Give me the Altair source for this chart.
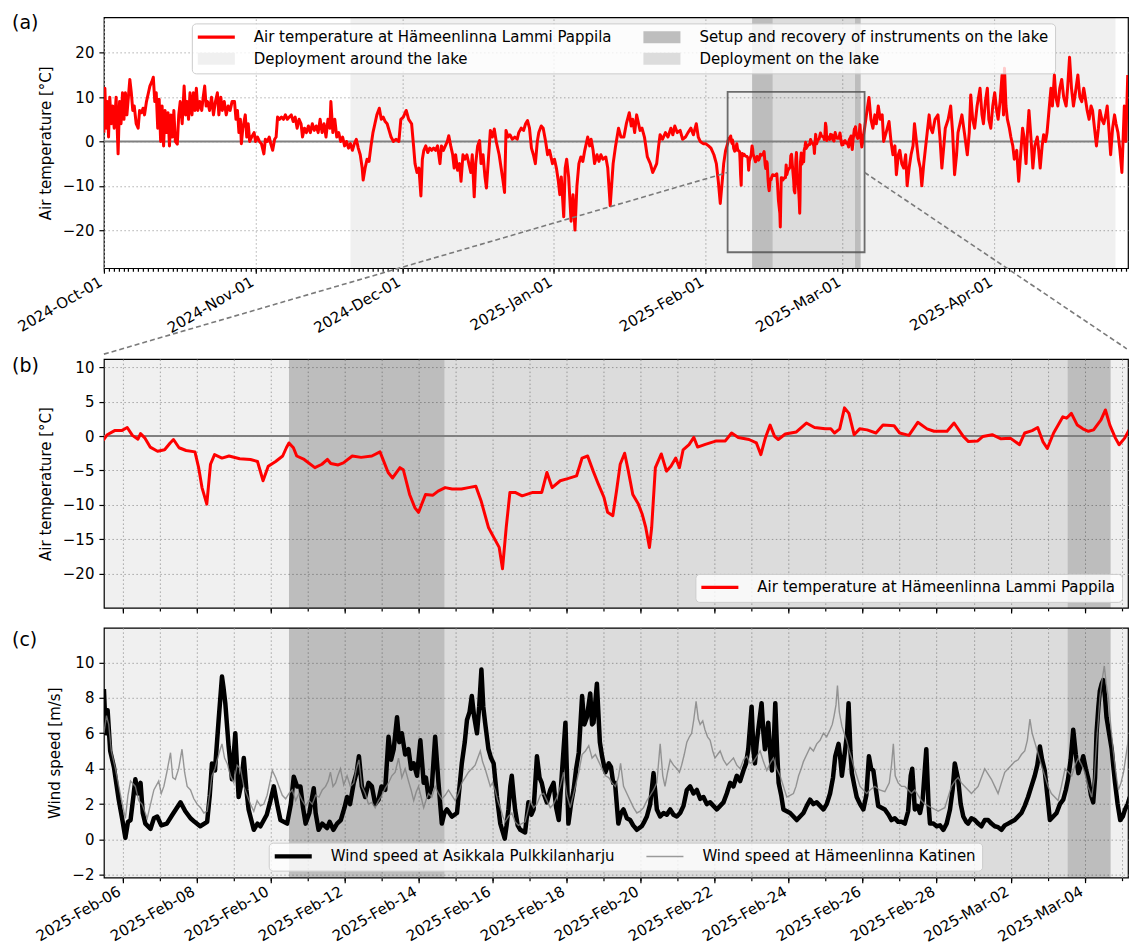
import altair as alt
import pandas as pd

FONT = "DejaVu Sans"
DAY_MS = 86_400_000
T0 = int(pd.Timestamp("2024-10-01T00:00:00Z").value // 1_000_000)  # day 0
FEB06 = 128.0  # 2025-02-06 in days since 2024-10-01

# ---------------- data (days since 2024-10-01, value) ----------------
temp_pre = [
    (0.0, 2), (0.2, 12), (0.45, 3), (0.7, 9), (0.95, 1), (1.2, 10), (1.5, 4), (1.8, 8), (2.1, 3), (2.5, 10),
    (2.9, -2.8), (3.2, 9), (3.5, 4), (3.8, 11), (4.1, 5), (4.4, 11), (4.7, 6), (5.0, 10), (5.3, 14), (5.6, 11),
    (5.9, 7), (6.2, 8), (6.6, 4), (7.0, 3), (7.3, 7), (7.7, 6.5), (8.0, 7.5), (8.3, 6), (8.7, 9), (9.1, 11),
    (9.4, 12.5), (9.8, 13.5), (10.1, 14.5), (10.4, 9), (10.7, 11), (11.0, 3), (11.3, 9.5), (11.6, 0), (11.9, 8),
    (12.2, -1), (12.5, 7), (12.8, 2), (13.1, 6.5), (13.4, -1), (13.7, 6), (14.0, 1), (14.3, 7), (14.6, 0),
    (15.0, -0.6), (15.3, 6), (15.6, 9), (16.0, 4), (16.4, 12.5), (16.7, 6), (17.0, 9), (17.3, 5), (17.6, 11),
    (18.0, 6), (18.3, 11), (18.6, 7), (18.9, 12), (19.2, 7), (19.6, 9), (20.0, 7), (20.3, 10), (20.6, 12.5),
    (20.9, 8), (21.2, 9), (21.6, 7), (22.0, 10), (22.4, 6), (22.8, 9), (23.2, 11), (23.5, 6), (23.9, 10),
    (24.2, 7), (24.6, 9), (25.0, 6), (25.4, 8), (25.8, 7), (26.2, 9), (26.7, 9), (27.0, 5), (27.3, 7), (27.6, 2),
    (27.9, 5), (28.1, -0.5), (28.4, 3), (28.9, 6), (29.2, 1), (29.5, 4), (29.8, 0), (30.2, 1), (30.7, 2),
    (31.0, 0), (31.4, 1), (31.8, 0), (32.2, -0.5), (32.7, -2.8), (33.0, 0.5), (33.4, 0), (33.8, 1), (34.1, -0.5),
    (34.5, -2), (34.9, 0.5), (35.2, 1), (35.5, 5.5), (35.9, 5), (36.3, 5.5), (36.7, 5), (37.1, 6), (37.5, 5),
    (37.9, 5.5), (38.3, 6), (38.7, 4.5), (39.1, 5.5), (39.5, 3), (39.9, 5), (40.3, 4), (40.6, 1), (41.0, 3),
    (41.4, 2), (41.8, 3.5), (42.2, 2), (42.6, 4), (43.0, 2.5), (43.4, 3.5), (43.8, 2), (44.2, 5), (44.6, 2),
    (45.0, 4), (45.4, 1), (45.8, 5), (46.2, 3), (46.4, 9), (46.8, 2), (47.2, 5), (47.6, 1), (48.0, 2), (48.4, 0),
    (48.8, 1), (49.2, -1), (49.6, 0), (50.0, -1.5), (50.4, -0.5), (50.8, -2), (51.2, -0.5), (51.6, 0.5),
    (52.0, -1.5), (52.4, -3), (52.8, -6), (53.0, -8.7), (53.4, -6), (53.8, -4), (54.2, -4.5), (54.6, -1),
    (55.0, 2), (55.4, 4), (55.8, 6), (56.3, 7.5), (56.7, 5), (57.1, 5.5), (57.5, 4.5), (57.9, 4), (58.3, 2.5),
    (58.7, 1), (59.2, 0), (59.7, 0.5), (60.3, 0), (60.7, 5), (61.2, 5.5), (61.8, 7), (62.3, 5), (62.9, 4),
    (63.3, -1), (63.6, -5), (64.0, -7), (64.4, -6), (64.8, -12.3), (65.1, -4), (65.4, -2), (65.8, -1),
    (66.2, -2.5), (66.6, -1.5), (67.0, -2), (67.4, -1.5), (67.8, -2), (68.2, -1), (68.7, -5), (69.0, -1),
    (69.4, -2), (69.8, -1), (70.2, 0), (70.5, 1.3), (70.9, -1), (71.3, -3), (71.6, -6), (71.9, -3), (72.3, -6.5),
    (72.7, -5), (73.0, -9), (73.4, -3), (73.8, -4), (74.2, -3), (74.6, -5), (75.0, -7), (75.3, -3),
    (75.7, -12.5), (76.0, -5), (76.4, -1), (76.8, 0.2), (77.1, -5), (77.5, -3), (77.9, -8), (78.2, -10.5),
    (78.6, -4), (79.0, 2.5), (79.4, 1), (79.8, 2.8), (80.2, 0), (80.8, -3), (81.2, -6), (81.6, -9),
    (81.9, -11.5), (82.2, 2.5), (82.6, 1), (83.0, 1.5), (83.5, 0.5), (84.0, 1), (84.5, 0.5), (84.8, 2),
    (85.3, 3), (85.8, 2.5), (86.2, 4), (86.6, 4.7), (87.0, 3), (87.4, -1.5), (87.8, -3), (88.2, -5), (88.6, 0),
    (88.9, 2), (89.4, 3.5), (89.8, 3), (90.3, 0), (90.7, -3), (91.1, -2), (91.7, -5), (92.1, -4), (92.5, -6),
    (92.9, -9), (93.2, -12), (93.5, -8), (94.0, -17), (94.3, -6), (94.6, -4), (95.0, -8), (95.5, -18),
    (95.9, -12), (96.3, -20), (96.7, -10), (97.1, -5), (97.5, -3.5), (97.9, -4.5), (98.3, -2), (98.9, 1),
    (99.3, -1), (99.6, 0.5), (100.0, -2), (100.3, -5), (100.8, -3), (101.2, -4.5), (101.6, -3), (102.0, -4),
    (102.6, -3.5), (103.0, -6), (103.5, -14.5), (104.1, -5), (104.6, -1), (105.2, 3), (105.7, 1), (106.3, 1),
    (106.8, 4), (107.4, 6.5), (107.8, 3.5), (108.1, 5), (108.5, 2), (108.9, 6), (109.3, 4), (109.6, 2.5),
    (110.0, 3), (110.5, 1), (111.1, -3.5), (111.7, -5), (112.2, -7), (112.6, -6), (113.0, -5), (113.4, -1),
    (113.7, 1.5), (114.2, 0.5), (114.8, 2), (115.3, 1), (115.9, 3), (116.3, 1.5), (116.7, 3.5), (117.2, 2),
    (117.8, 2.5), (118.3, 0.5), (118.9, 1), (119.4, 2), (120.0, 3), (120.5, 1.5), (121.1, 4), (121.5, 1),
    (121.9, 0), (122.5, -0.5), (123.0, -0.5), (123.6, -1), (124.1, -1.5), (124.7, -3), (125.2, -5), (125.6, -9),
    (126.0, -14), (126.4, -9), (126.7, -5), (127.1, -2),
]

# zoom window temperature: (days since 2025-02-06, value)
temp_zoom = [
    (-0.5, -0.5), (-0.41, 0.2), (-0.21, 0.8), (-0.02, 0.8), (0.13, 1.25), (0.27, 0.1), (0.42, -0.45),
    (0.49, 0.35), (0.61, -0.3), (0.75, -1.6), (0.95, -2.2), (1.14, -2.0), (1.29, -1.0), (1.38, -0.5),
    (1.53, -1.7), (1.72, -2.1), (1.96, -2.3), (2.06, -4.6), (2.15, -7.5), (2.28, -9.9), (2.38, -4.1),
    (2.49, -2.7), (2.69, -3.2), (2.88, -2.9), (3.17, -3.3), (3.46, -3.4), (3.65, -3.7), (3.8, -6.5),
    (3.94, -4.4), (4.14, -3.7), (4.33, -2.9), (4.43, -1.7), (4.5, -1.0), (4.62, -1.7), (4.71, -2.9),
    (4.91, -3.4), (5.2, -4.6), (5.39, -4.1), (5.54, -3.4), (5.63, -4.0), (5.83, -4.2), (5.97, -3.9),
    (6.21, -2.9), (6.45, -3.1), (6.74, -2.9), (6.96, -2.3), (7.18, -5.3), (7.3, -6.1), (7.5, -4.6),
    (7.59, -4.9), (7.76, -8.5), (7.9, -10.4), (8.0, -11.1), (8.19, -8.5), (8.39, -8.6), (8.53, -8.0),
    (8.72, -7.5), (8.91, -7.7), (9.16, -7.7), (9.35, -7.5), (9.55, -7.3), (9.69, -9.4), (9.89, -13.3),
    (10.03, -14.7), (10.18, -16.2), (10.27, -19.3), (10.37, -13.3), (10.47, -8.2), (10.61, -8.2),
    (10.8, -8.7), (11.09, -8.2), (11.33, -8.2), (11.47, -5.3), (11.61, -7.5), (11.83, -6.5), (12.03, -6.2),
    (12.27, -5.8), (12.42, -3.2), (12.57, -2.9), (12.72, -5.1), (12.86, -7.0), (13.01, -8.9), (13.11, -11.1),
    (13.25, -11.6), (13.35, -8.0), (13.45, -4.1), (13.57, -2.5), (13.67, -5.1), (13.79, -8.5), (13.94, -9.9),
    (14.04, -11.3), (14.14, -13.3), (14.24, -16.2), (14.3, -13.3), (14.4, -4.6), (14.56, -2.6), (14.7, -5.1),
    (14.82, -4.4), (14.95, -3.2), (15.05, -4.6), (15.15, -2.0), (15.31, -1.25), (15.44, -0.2), (15.54, -1.6),
    (15.75, -1.2), (16.05, -0.7), (16.29, -0.7), (16.46, 0.45), (16.64, -0.2), (16.93, -0.5), (17.13, -1.0),
    (17.25, -2.7), (17.37, -0.3), (17.5, 1.6), (17.62, -0.05), (17.72, -0.5), (17.91, 0.3), (18.21, 0.6),
    (18.48, 1.9), (18.7, 1.25), (18.99, 1.05), (19.14, 1.05), (19.24, 0.45), (19.38, 1.05), (19.51, 4.1),
    (19.63, 3.3), (19.77, 0.2), (19.92, 1.05), (20.12, 0.9), (20.36, 0.45), (20.55, 1.6), (20.85, 1.5),
    (21.0, 0.45), (21.25, 0.1), (21.49, 2.0), (21.74, 1.05), (21.93, 0.7), (22.28, 0.7), (22.47, 1.9),
    (22.72, -0.05), (22.86, -0.8), (23.11, -0.7), (23.25, -0.05), (23.5, 0.2), (23.74, -0.4), (23.99, -0.3),
    (24.24, -1.25), (24.38, 0.45), (24.58, 0.8), (24.73, 1.25), (24.87, -0.8), (24.99, -1.8), (25.16, 0.45),
    (25.41, 2.8), (25.51, 2.6), (25.64, 3.3), (25.8, 1.6), (25.95, 1.05), (26.1, 0.7), (26.24, 0.9),
    (26.44, 2.35), (26.56, 3.8), (26.68, 1.6), (26.83, -0.3), (26.93, -1.25), (27.08, -0.3), (27.2, 0.9),
]

temp_post = [
    (155.5, 3), (156.0, 7), (156.4, 9.9), (156.8, 5), (157.2, 3), (157.6, 6), (157.9, 4), (158.3, 8),
    (158.7, 5), (159.1, 6), (159.4, 0), (159.9, 2), (160.5, 4.5), (160.9, 0), (161.3, -3), (161.7, -1),
    (162.0, -7.5), (162.4, -3), (162.7, -2), (163.1, -5), (163.5, -6), (163.9, -3), (164.2, -10), (164.6, -6),
    (165.0, -3), (165.4, -1), (165.7, 4), (166.1, 0), (166.5, -4), (166.9, -6), (167.2, -10), (167.6, -5),
    (167.9, -2), (168.3, 2), (168.7, 6), (169.0, 3), (169.4, 2), (169.9, 5), (170.5, 6), (170.9, 1),
    (171.3, -6), (171.7, -1), (172.0, 3), (172.6, 5), (173.1, 8), (173.5, 2), (173.9, -7.5), (174.3, -3),
    (174.6, 2), (175.0, 4), (175.4, 6), (175.9, 2), (176.5, -3), (176.9, 2), (177.2, 10.5), (177.6, 5),
    (178.0, 3), (178.5, 8), (179.1, 12), (179.5, 6), (179.8, 4), (180.2, 9), (180.6, 12), (180.9, 5),
    (181.3, 3), (181.7, 8), (182.1, 11), (182.5, 7), (182.8, 5), (183.2, 9), (183.6, 15), (183.9, 6),
    (184.1, 16.5), (184.4, 8), (184.7, 5), (185.1, 3), (185.4, 1), (185.8, -1), (186.1, -4), (186.6, -2),
    (187.0, -9), (187.4, -3), (187.8, 3), (188.1, 1), (188.5, -5), (188.8, 2), (189.1, 7), (189.5, 1),
    (189.9, -6), (190.3, -1), (190.8, 1), (191.1, -2), (191.4, -6), (191.8, -1), (192.1, 1.5), (192.5, 0),
    (192.8, 2), (193.2, 7), (193.6, 12), (193.9, 8), (194.3, 15), (194.6, 10), (195.0, 8), (195.4, 12),
    (195.8, 14), (196.2, 10), (196.7, 8), (197.0, 12), (197.4, 19), (197.8, 12), (198.2, 8), (198.6, 11),
    (199.1, 15), (199.5, 10), (199.9, 9), (200.3, 12), (200.6, 10), (201.0, 7), (201.4, 5), (201.8, 8),
    (202.1, 7), (202.5, 3), (202.9, -1), (203.3, 3), (203.6, 7), (204.0, 5), (204.4, 4), (204.8, 6),
    (205.1, 8), (205.5, 2), (205.8, -3), (206.2, 3), (206.6, 6), (206.9, 4), (207.3, 2), (207.7, -2),
    (208.1, -7), (208.4, 2), (208.6, 8), (208.9, 0), (209.3, 15),
]

# wind speed (days since 2025-02-06, m/s)
wind_asikkala = [
    (-0.5, 8.5), (-0.45, 6.0), (-0.4, 7.3), (-0.33, 5.0), (-0.23, 4.1), (-0.1, 2.25), (0.0, 1.1), (0.08, 0.1),
    (0.15, 1.0), (0.22, 1.1), (0.3, 2.5), (0.35, 3.4), (0.42, 2.6), (0.49, 3.2), (0.55, 1.5), (0.62, 0.9),
    (0.76, 0.6), (0.85, 1.2), (0.94, 1.3), (1.05, 0.8), (1.2, 0.9), (1.35, 1.4), (1.57, 2.1), (1.7, 1.6),
    (1.84, 1.2), (1.95, 1.0), (2.1, 0.75), (2.29, 1.0), (2.36, 2.5), (2.42, 4.3), (2.5, 3.9), (2.6, 6.75),
    (2.69, 9.2), (2.73, 8.6), (2.78, 7.7), (2.87, 5.25), (2.96, 3.4), (3.05, 6.0), (3.14, 2.4), (3.2, 3.0),
    (3.28, 4.6), (3.35, 2.8), (3.41, 1.7), (3.55, 0.55), (3.65, 0.9), (3.73, 0.75), (3.9, 1.4), (4.0, 2.2),
    (4.09, 3.0), (4.18, 2.0), (4.27, 1.1), (4.45, 0.9), (4.55, 2.0), (4.63, 3.55), (4.72, 3.0), (4.81, 3.0),
    (4.88, 1.8), (4.95, 0.9), (5.05, 1.5), (5.17, 2.9), (5.22, 1.5), (5.3, 0.55), (5.4, 0.9), (5.53, 0.65),
    (5.6, 1.0), (5.7, 0.55), (5.8, 0.9), (5.9, 1.1), (6.0, 1.8), (6.07, 2.4), (6.15, 2.0), (6.25, 3.2),
    (6.33, 3.8), (6.39, 4.7), (6.47, 3.0), (6.56, 2.4), (6.65, 3.2), (6.74, 3.0), (6.83, 2.0), (6.92, 2.25),
    (7.0, 3.0), (7.1, 2.8), (7.19, 5.8), (7.26, 4.5), (7.33, 5.1), (7.42, 6.9), (7.48, 5.5), (7.55, 6.0),
    (7.64, 4.8), (7.73, 5.1), (7.8, 4.0), (7.87, 4.3), (7.96, 3.6), (8.05, 5.6), (8.14, 3.2), (8.2, 3.5),
    (8.27, 2.4), (8.36, 3.0), (8.45, 5.8), (8.54, 3.2), (8.63, 0.9), (8.7, 1.5), (8.77, 1.7), (8.9, 1.3),
    (9.04, 1.5), (9.1, 2.8), (9.17, 4.3), (9.25, 5.5), (9.31, 6.75), (9.38, 7.2), (9.44, 8.1), (9.5, 7.0),
    (9.58, 6.0), (9.64, 7.5), (9.7, 9.6), (9.75, 7.5), (9.8, 6.6), (9.89, 5.1), (9.96, 4.6), (10.03, 4.3),
    (10.12, 2.4), (10.21, 0.9), (10.28, 0.4), (10.33, 0.05), (10.38, 0.8), (10.43, 1.7), (10.48, 3.0),
    (10.52, 3.6), (10.57, 2.5), (10.61, 1.7), (10.68, 0.8), (10.75, 0.55), (10.88, 0.4), (10.97, 2.1),
    (11.05, 1.4), (11.11, 1.7), (11.2, 4.7), (11.27, 3.5), (11.33, 3.2), (11.4, 2.5), (11.47, 2.1),
    (11.56, 2.8), (11.65, 3.2), (11.72, 1.8), (11.79, 1.1), (11.88, 3.9), (11.97, 6.6), (12.05, 0.9),
    (12.12, 2.0), (12.19, 2.8), (12.26, 4.0), (12.33, 4.9), (12.42, 8.1), (12.48, 6.5), (12.55, 6.9),
    (12.64, 8.25), (12.69, 6.5), (12.73, 6.6), (12.82, 8.8), (12.9, 5.5), (12.96, 4.7), (13.05, 3.8),
    (13.14, 4.3), (13.2, 4.1), (13.26, 3.2), (13.31, 3.2), (13.4, 0.9), (13.47, 1.5), (13.54, 1.7),
    (13.63, 1.2), (13.72, 1.1), (13.8, 0.8), (13.9, 0.55), (14.03, 0.75), (14.1, 1.0), (14.17, 1.3),
    (14.26, 2.0), (14.35, 3.75), (14.44, 1.7), (14.53, 1.3), (14.62, 1.5), (14.71, 1.4), (14.8, 1.7),
    (14.89, 1.4), (14.98, 1.3), (15.07, 1.5), (15.16, 1.9), (15.25, 2.8), (15.34, 3.0), (15.43, 2.6),
    (15.52, 2.8), (15.61, 2.3), (15.7, 2.4), (15.79, 2.0), (15.88, 2.1), (15.97, 1.9), (16.06, 1.7),
    (16.15, 1.9), (16.24, 2.1), (16.33, 2.6), (16.42, 3.2), (16.51, 3.0), (16.6, 3.6), (16.69, 3.3),
    (16.78, 3.9), (16.85, 4.3), (16.91, 5.1), (17.0, 7.5), (17.05, 5.0), (17.09, 4.3), (17.14, 5.5),
    (17.18, 6.2), (17.27, 7.7), (17.32, 6.0), (17.36, 5.1), (17.45, 6.6), (17.5, 5.0), (17.55, 3.9),
    (17.6, 5.5), (17.64, 7.7), (17.69, 5.0), (17.73, 3.2), (17.8, 2.5), (17.86, 1.7), (17.95, 1.6),
    (18.04, 1.5), (18.13, 1.3), (18.22, 1.1), (18.31, 1.3), (18.4, 1.5), (18.49, 1.9), (18.58, 2.25),
    (18.67, 2.0), (18.76, 2.1), (18.85, 1.9), (18.94, 1.7), (19.03, 2.0), (19.12, 2.6), (19.2, 3.5),
    (19.26, 4.7), (19.35, 5.4), (19.4, 4.5), (19.44, 3.6), (19.53, 5.1), (19.58, 6.0), (19.62, 7.7),
    (19.67, 5.0), (19.71, 3.75), (19.78, 3.0), (19.84, 2.4), (19.93, 2.0), (20.02, 1.7), (20.1, 2.5),
    (20.17, 4.7), (20.23, 4.0), (20.29, 3.9), (20.36, 2.8), (20.42, 1.9), (20.51, 1.8), (20.6, 1.7),
    (20.7, 1.4), (20.78, 1.1), (20.87, 1.2), (20.96, 1.0), (21.05, 1.0), (21.14, 0.9), (21.23, 1.6),
    (21.3, 3.6), (21.34, 4.0), (21.41, 1.7), (21.48, 1.9), (21.55, 1.5), (21.62, 2.2), (21.72, 5.1),
    (21.78, 2.0), (21.82, 0.9), (21.91, 0.9), (22.0, 0.75), (22.09, 0.8), (22.18, 0.55), (22.27, 0.9),
    (22.36, 1.7), (22.43, 2.8), (22.49, 4.3), (22.58, 3.4), (22.65, 2.0), (22.72, 1.3), (22.8, 1.0),
    (22.85, 0.9), (22.94, 1.2), (23.03, 1.1), (23.12, 0.9), (23.21, 0.75), (23.3, 1.1), (23.39, 1.1),
    (23.48, 0.9), (23.57, 0.75), (23.66, 0.7), (23.75, 0.55), (23.84, 0.8), (23.93, 0.9), (24.02, 1.0),
    (24.11, 1.1), (24.2, 1.3), (24.29, 1.5), (24.38, 1.9), (24.47, 2.4), (24.56, 3.0), (24.65, 3.6),
    (24.72, 4.2), (24.79, 5.25), (24.85, 4.5), (24.92, 3.9), (24.99, 2.5), (25.06, 1.1), (25.15, 1.3),
    (25.24, 1.5), (25.33, 2.0), (25.42, 2.25), (25.49, 2.8), (25.55, 3.4), (25.62, 4.5), (25.69, 6.2),
    (25.76, 4.8), (25.83, 3.75), (25.9, 4.2), (25.96, 4.7), (26.03, 4.0), (26.1, 3.4), (26.17, 2.5),
    (26.23, 2.1), (26.28, 3.5), (26.32, 6.0), (26.37, 7.5), (26.41, 8.4), (26.46, 8.8), (26.5, 9.0),
    (26.55, 8.0), (26.59, 6.9), (26.66, 6.0), (26.73, 5.1), (26.78, 4.0), (26.82, 3.2), (26.89, 2.0),
    (26.96, 1.1), (27.03, 1.3), (27.09, 1.7), (27.16, 2.0), (27.22, 2.4),
]

wind_katinen = [
    (-0.5, 6.0), (-0.43, 7.0), (-0.37, 6.5), (-0.3, 5.0), (-0.19, 4.0), (-0.05, 2.5), (0.08, 1.2), (0.15, 2.5),
    (0.22, 3.3), (0.35, 3.0), (0.44, 2.2), (0.53, 2.0), (0.67, 1.2), (0.76, 2.0), (0.85, 2.8), (0.98, 3.3),
    (1.05, 2.6), (1.12, 3.0), (1.2, 3.8), (1.3, 4.9), (1.36, 3.5), (1.43, 3.4), (1.52, 4.0), (1.61, 5.1),
    (1.68, 3.8), (1.75, 3.0), (1.84, 2.8), (1.93, 2.3), (2.02, 2.0), (2.11, 1.8), (2.2, 1.5), (2.29, 1.6),
    (2.36, 2.6), (2.42, 3.6), (2.5, 4.0), (2.56, 4.5), (2.63, 5.0), (2.69, 5.4), (2.76, 4.6), (2.83, 4.3),
    (2.92, 3.6), (3.01, 3.2), (3.1, 4.2), (3.19, 4.0), (3.28, 3.0), (3.37, 2.5), (3.46, 2.0), (3.55, 1.6),
    (3.64, 2.2), (3.73, 1.9), (3.82, 2.0), (3.91, 2.5), (3.98, 3.2), (4.05, 3.9), (4.14, 3.5), (4.23, 3.0),
    (4.32, 2.5), (4.41, 2.3), (4.5, 2.6), (4.59, 2.8), (4.68, 2.2), (4.77, 2.6), (4.86, 2.2), (4.95, 1.9),
    (5.04, 2.2), (5.13, 2.0), (5.22, 2.5), (5.31, 2.4), (5.4, 2.8), (5.49, 3.0), (5.56, 3.3), (5.62, 3.8),
    (5.69, 3.0), (5.76, 3.2), (5.82, 3.6), (5.89, 4.0), (5.98, 3.1), (6.07, 3.6), (6.16, 3.0), (6.25, 3.2),
    (6.32, 4.0), (6.39, 4.5), (6.47, 3.0), (6.56, 2.6), (6.65, 2.0), (6.74, 2.1), (6.83, 1.8), (6.92, 2.2),
    (7.01, 2.5), (7.1, 2.9), (7.19, 3.2), (7.28, 3.6), (7.37, 3.8), (7.46, 4.6), (7.55, 3.5), (7.64, 4.0),
    (7.73, 3.3), (7.8, 2.8), (7.87, 2.2), (7.94, 2.7), (8.0, 3.0), (8.07, 2.4), (8.14, 1.8), (8.2, 2.2),
    (8.27, 2.6), (8.36, 2.4), (8.45, 3.0), (8.54, 2.6), (8.63, 2.3), (8.72, 2.5), (8.81, 2.8), (8.9, 2.5),
    (8.99, 2.2), (9.08, 2.6), (9.17, 3.2), (9.26, 3.5), (9.35, 3.8), (9.44, 4.0), (9.53, 4.2), (9.6, 4.6),
    (9.67, 5.0), (9.73, 4.4), (9.8, 4.0), (9.87, 3.5), (9.94, 3.0), (10.0, 3.2), (10.07, 2.8), (10.14, 2.2),
    (10.21, 1.8), (10.28, 1.3), (10.34, 1.0), (10.43, 1.3), (10.52, 1.5), (10.61, 1.0), (10.7, 0.8),
    (10.79, 0.9), (10.88, 1.0), (10.95, 1.6), (11.02, 2.2), (11.11, 1.8), (11.2, 2.0), (11.29, 2.5),
    (11.38, 2.6), (11.47, 2.2), (11.56, 1.8), (11.65, 2.0), (11.74, 2.4), (11.83, 3.0), (11.92, 3.8),
    (12.01, 2.5), (12.1, 1.8), (12.17, 2.4), (12.24, 3.0), (12.33, 3.8), (12.42, 4.8), (12.51, 5.0),
    (12.6, 5.3), (12.69, 4.6), (12.78, 4.8), (12.87, 4.4), (12.96, 4.0), (13.05, 3.6), (13.14, 3.5),
    (13.23, 3.2), (13.32, 3.0), (13.4, 3.5), (13.46, 4.3), (13.54, 3.0), (13.63, 2.6), (13.72, 2.2),
    (13.81, 1.8), (13.9, 1.5), (13.99, 1.6), (14.08, 1.8), (14.17, 2.2), (14.26, 2.5), (14.35, 2.8),
    (14.44, 3.2), (14.53, 5.4), (14.6, 3.6), (14.66, 3.0), (14.73, 3.8), (14.8, 4.5), (14.89, 4.2),
    (14.98, 4.0), (15.05, 3.8), (15.11, 4.2), (15.18, 4.8), (15.25, 5.5), (15.32, 5.8), (15.38, 6.0),
    (15.44, 6.8), (15.5, 7.8), (15.56, 6.8), (15.61, 6.5), (15.68, 6.7), (15.74, 6.2), (15.81, 5.8),
    (15.88, 5.6), (15.95, 5.0), (16.01, 4.6), (16.08, 4.8), (16.15, 5.0), (16.24, 4.5), (16.33, 4.2),
    (16.42, 4.4), (16.51, 4.6), (16.6, 4.2), (16.69, 4.0), (16.78, 4.5), (16.87, 4.7), (16.96, 4.3),
    (17.05, 4.4), (17.14, 4.7), (17.23, 5.0), (17.32, 4.4), (17.41, 3.9), (17.5, 4.3), (17.59, 4.6),
    (17.68, 4.0), (17.77, 3.6), (17.86, 3.0), (17.95, 2.4), (18.04, 2.5), (18.13, 2.6), (18.2, 3.0),
    (18.27, 3.6), (18.34, 4.0), (18.4, 4.4), (18.49, 4.8), (18.58, 5.2), (18.67, 5.0), (18.76, 5.4),
    (18.85, 5.6), (18.94, 6.0), (19.03, 5.8), (19.12, 6.2), (19.18, 6.5), (19.23, 7.0), (19.28, 7.6),
    (19.32, 8.7), (19.37, 7.2), (19.44, 6.4), (19.5, 6.0), (19.57, 5.6), (19.64, 5.0), (19.7, 4.6),
    (19.75, 4.2), (19.84, 3.6), (19.93, 3.0), (20.02, 2.8), (20.11, 2.6), (20.2, 2.8), (20.33, 3.0),
    (20.46, 2.8), (20.6, 2.7), (20.72, 3.2), (20.78, 4.2), (20.83, 5.4), (20.88, 3.6), (20.96, 3.2),
    (21.05, 3.0), (21.14, 3.0), (21.23, 2.8), (21.32, 2.6), (21.41, 2.8), (21.5, 2.5), (21.59, 2.2),
    (21.68, 2.0), (21.77, 1.9), (21.86, 1.8), (21.95, 1.7), (22.04, 1.6), (22.13, 1.7), (22.22, 1.8),
    (22.31, 2.4), (22.4, 3.0), (22.49, 3.3), (22.58, 3.5), (22.67, 3.2), (22.76, 3.0), (22.85, 2.8),
    (22.94, 2.6), (23.03, 2.8), (23.12, 3.0), (23.21, 3.5), (23.3, 4.0), (23.39, 3.7), (23.48, 3.4),
    (23.57, 3.0), (23.66, 2.6), (23.75, 3.2), (23.84, 3.8), (23.93, 4.0), (24.02, 4.2), (24.11, 4.4),
    (24.2, 4.5), (24.29, 4.8), (24.38, 5.0), (24.45, 5.6), (24.52, 6.8), (24.58, 6.0), (24.65, 5.5),
    (24.72, 5.0), (24.79, 4.5), (24.86, 4.0), (24.92, 3.6), (25.01, 3.0), (25.1, 2.6), (25.19, 2.4),
    (25.28, 2.2), (25.37, 3.0), (25.47, 4.0), (25.56, 3.8), (25.65, 3.6), (25.74, 4.2), (25.83, 4.6),
    (25.92, 4.2), (26.0, 3.8), (26.09, 3.0), (26.19, 2.4), (26.26, 3.5), (26.32, 5.5), (26.37, 6.8),
    (26.41, 8.0), (26.47, 9.0), (26.53, 9.8), (26.58, 8.8), (26.64, 8.0), (26.7, 6.5), (26.77, 5.0),
    (26.84, 3.8), (26.91, 2.8), (26.98, 3.2), (27.05, 3.8), (27.12, 4.8), (27.19, 5.8), (27.22, 6.0),
]

# periods (days since 2024-10-01)
around_lake = [(50.4, 206.8)]
on_lake = [(132.5, 154.7)]
setup_recovery = [(132.5, 136.7), (153.54, 154.7)]
zoom_window = (127.5, 155.5)
zoom_temp_range = (-25.0, 11.2)
# zoom connector lines in panel (a) units: (day1, value1, day2, value2)
connectors = [(0.0, -48.0, 127.5, -7.0), (155.5, -7.0, 209.1, -46.8)]

# axis ranges / ticks (days since 2024-10-01)
a_domain = (0.0, 209.35)
b_domain = (127.5, 155.17)
a_month_ticks = [0, 31, 61, 92, 123, 151, 182]
a_day_ticks = list(range(0, 210))
b_major_ticks = [FEB06 + 2 * k for k in range(14)]
b_day_ticks = [FEB06 + k for k in range(28)]
ya_domain, yb_domain, yc_domain = (-28.6, 28.0), (-25.0, 11.2), (-2.15, 11.95)
ya_ticks = [-20, -10, 0, 10, 20]
yb_ticks = [-20, -15, -10, -5, 0, 5, 10]
yc_ticks = [-2, 0, 2, 4, 6, 8, 10]

LBL_AIR = "Air temperature at Hämeenlinna Lammi Pappila"
LBL_SETUP = "Setup and recovery of instruments on the lake"
LBL_AROUND = "Deployment around the lake"
LBL_ON = "Deployment on the lake"
LBL_W1 = "Wind speed at Asikkala Pulkkilanharju"
LBL_W2 = "Wind speed at Hämeenlinna Katinen"


def ms(day):
    return T0 + day * DAY_MS


temp_df = pd.DataFrame(
    [(ms(d), v) for d, v in temp_pre]
    + [(ms(FEB06 + d), v) for d, v in temp_zoom]
    + [(ms(d), v) for d, v in temp_post],
    columns=["t", "v"],
)
w1_df = pd.DataFrame([(ms(FEB06 + d), v) for d, v in wind_asikkala], columns=["t", "v"])
w2_df = pd.DataFrame([(ms(FEB06 + d), v) for d, v in wind_katinen], columns=["t", "v"])


def period_df(periods):
    return pd.DataFrame({"s": [ms(a) for a, b in periods], "e": [ms(b) for a, b in periods]})


around_df, on_df, setup_df = period_df(around_lake), period_df(on_lake), period_df(setup_recovery)
box_df = pd.DataFrame({"s": [ms(zoom_window[0])], "e": [ms(zoom_window[1])],
                       "lo": [zoom_temp_range[0]], "hi": [zoom_temp_range[1]]})
conn_df = pd.DataFrame({"t1": [ms(c[0]) for c in connectors], "v1": [c[1] for c in connectors],
                        "t2": [ms(c[2]) for c in connectors], "v2": [c[3] for c in connectors]})
zero_df = pd.DataFrame({"v": [0]})

W, HA, HB, HC = 1025, 251, 249, 250
GRID = dict(gridColor="#b0b0b0", gridDash=[1.5, 2.5], gridWidth=1)


def xscale(dom):
    return alt.Scale(type="utc", domain=[ms(dom[0]), ms(dom[1])], nice=False)


def yscale(dom):
    return alt.Scale(domain=list(dom), nice=False, zero=False)


def x_major(values, labels, grid):
    return alt.Axis(values=[ms(v) for v in values], labels=labels,
                    labelExpr="utcFormat(datum.value, '%Y-%b-%d')",
                    labelAngle=330, labelAlign="right", labelBaseline="top", labelOffset=-7,
                    labelPadding=1, labelFlush=False, labelOverlap=False, tickSize=5, grid=grid,
                    domain=False, title=None, orient="bottom", **GRID)


def x_minor(values, grid):
    return alt.Axis(values=[ms(v) for v in values], labels=False, tickSize=3, grid=grid, domain=False,
                    title=None, orient="bottom", **GRID)


def y_axis(title, values):
    return alt.Axis(title=title, values=values, format="d", tickSize=5, labelPadding=5, titlePadding=9,
                    grid=True, domain=False, **GRID)


def span_layers(xs, axis):
    out = []
    for i, (df, op) in enumerate([(around_df, 0.059), (on_df, 0.083), (setup_df, 0.136)]):
        out.append(alt.Chart(df).mark_rect(color="black", opacity=op, clip=True).encode(
            x=alt.X("s:T", scale=xs, axis=axis if i == 0 else None), x2="e:T"))
    return out


def legend_layer(labels, colors, shapes, **legend_kw):
    leg = alt.Legend(title=None, symbolSize=225, symbolOffset=11, labelOffset=30, symbolStrokeWidth=0,
                     symbolOpacity=1, labelFont=FONT, labelFontSize=15, labelColor="black", labelLimit=800,
                     fillColor="rgba(255,255,255,0.8)", strokeColor="#cccccc", cornerRadius=4,
                     padding=6, rowPadding=6, columnPadding=30, **legend_kw)
    df = pd.DataFrame({"cat": labels})
    return alt.Chart(df).mark_point(opacity=0, filled=True).encode(
        color=alt.Color("cat:N", scale=alt.Scale(domain=labels, range=colors), legend=leg),
        shape=alt.Shape("cat:N", scale=alt.Scale(domain=labels, range=shapes), legend=leg))


P_RED = "M-2.47,-0.22L2.47,-0.22L2.47,0.22L-2.47,0.22Z"
P_RECT = "M-2.47,-0.8L2.47,-0.8L2.47,0.8L-2.47,0.8Z"
P_BLACK = "M-2.47,-0.29L2.47,-0.29L2.47,0.29L-2.47,0.29Z"
P_GREY = "M-2.47,-0.1L2.47,-0.1L2.47,0.1L-2.47,0.1Z"


def panel_title(txt, offset):
    return alt.TitleParams(text=txt, anchor="start", frame="group", orient="top", offset=offset,
                           baseline="top", dx=-92, font=FONT, fontSize=19, fontWeight="normal", color="black")


# ---------------- panel (a) ----------------
xs_a, ys_a = xscale(a_domain), yscale(ya_domain)
ya_ax = y_axis("Air temperature [°C]", ya_ticks)
a_layers = span_layers(xs_a, x_major(a_month_ticks, True, True)) + [
    alt.Chart(zero_df).mark_rule(color="#808080", strokeWidth=2).encode(
        y=alt.Y("v:Q", scale=ys_a, axis=ya_ax)),
    alt.Chart(temp_df).mark_line(color="#ff0000", strokeWidth=3, clip=True, strokeJoin="round").encode(
        x=alt.X("t:T", scale=xs_a, axis=x_minor(a_day_ticks, False)),
        y=alt.Y("v:Q", scale=ys_a, axis=ya_ax)),
    alt.Chart(box_df).mark_rect(filled=False, stroke="#555555", strokeWidth=1.8, strokeOpacity=0.85).encode(
        x=alt.X("s:T", scale=xs_a, axis=None), x2="e:T",
        y=alt.Y("lo:Q", scale=ys_a, axis=ya_ax), y2="hi:Q"),
    alt.Chart(conn_df).mark_rule(color="#7a7a7a", strokeWidth=1.6, strokeDash=[5, 3], clip=False).encode(
        x=alt.X("t1:T", scale=xs_a, axis=None), x2="t2:T",
        y=alt.Y("v1:Q", scale=ys_a, axis=ya_ax), y2="v2:Q"),
    legend_layer([LBL_AIR, LBL_AROUND, LBL_SETUP, LBL_ON],
                 ["#ff0000", "#f0f0f0", "#bebebe", "#dcdcdc"],
                 [P_RED, P_RECT, P_RECT, P_RECT],
                 orient="none", legendX=88, legendY=6, columns=2),
]
panel_a = alt.layer(*a_layers).resolve_axis(x="independent").properties(
    width=W, height=HA, title=panel_title("(a)", -16))

# ---------------- panel (b) ----------------
xs_b, ys_b = xscale(b_domain), yscale(yb_domain)
yb_ax = y_axis("Air temperature [°C]", yb_ticks)
b_layers = span_layers(xs_b, x_major(b_major_ticks, False, False)) + [
    alt.Chart(zero_df).mark_rule(color="#808080", strokeWidth=2).encode(
        y=alt.Y("v:Q", scale=ys_b, axis=yb_ax)),
    alt.Chart(temp_df).mark_line(color="#ff0000", strokeWidth=3, clip=True, strokeJoin="round").encode(
        x=alt.X("t:T", scale=xs_b, axis=x_minor(b_day_ticks, True)),
        y=alt.Y("v:Q", scale=ys_b, axis=yb_ax)),
    legend_layer([LBL_AIR], ["#ff0000"], [P_RED], orient="bottom-right", offset=6),
]
panel_b = alt.layer(*b_layers).resolve_axis(x="independent").properties(
    width=W, height=HB, title=panel_title("(b)", -17))

# ---------------- panel (c) ----------------
xs_c, ys_c = xscale(b_domain), yscale(yc_domain)
yc_ax = y_axis("Wind speed [m/s]", yc_ticks)
c_layers = span_layers(xs_c, x_major(b_major_ticks, True, False)) + [
    alt.Chart(w1_df).mark_line(color="black", strokeWidth=4.5, clip=True, strokeJoin="round").encode(
        x=alt.X("t:T", scale=xs_c, axis=x_minor(b_day_ticks, True)),
        y=alt.Y("v:Q", scale=ys_c, axis=yc_ax)),
    alt.Chart(w2_df).mark_line(color="#808080", strokeWidth=1.4, opacity=0.8, clip=True).encode(
        x=alt.X("t:T", scale=xs_c, axis=None),
        y=alt.Y("v:Q", scale=ys_c, axis=yc_ax)),
    legend_layer([LBL_W1, LBL_W2], ["#000000", "#9a9a9a"], [P_BLACK, P_GREY],
                 orient="none", legendX=165, legendY=215, columns=2, direction="horizontal"),
]
panel_c = alt.layer(*c_layers).resolve_axis(x="independent").properties(
    width=W, height=HC, title=panel_title("(c)", -22))

inner = alt.vconcat(panel_b, panel_c, spacing=12).resolve_scale(color="independent", shape="independent")
chart = alt.vconcat(panel_a, inner, spacing=0).resolve_scale(
    color="independent", shape="independent"
).properties(
    padding={"left": 11, "top": 13, "right": 0, "bottom": 0}
).configure(font=FONT).configure_view(stroke="black", strokeWidth=1.2).configure_axis(
    labelFont=FONT, labelFontSize=15, labelColor="black", titleFont=FONT, titleFontSize=15,
    titleFontWeight="normal", titleColor="black", tickColor="black", tickWidth=1.2,
).configure_legend(labelFont=FONT)

chart.save("out.html", embed_options={"renderer": "svg", "actions": False})
